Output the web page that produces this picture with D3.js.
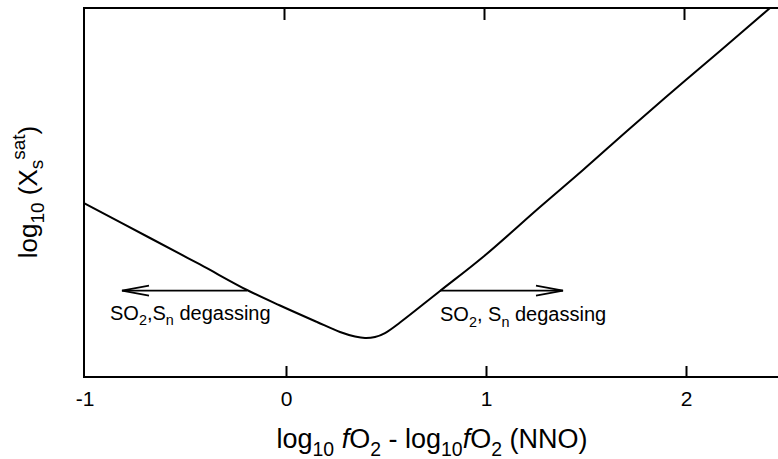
<!DOCTYPE html>
<html>
<head>
<meta charset="utf-8">
<script src="https://cdn.jsdelivr.net/npm/d3@7"></script>
<style>
  html, body { margin: 0; padding: 0; background: #fff; }
  svg { display: block; }
  text { font-family: "Liberation Sans", Arial, sans-serif; fill: #000; }
</style>
</head>
<body>
<svg id="chart" width="778" height="459"></svg>
<script>
// Sulfur saturation curve vs. oxygen fugacity relative to NNO buffer
const curveX = [-1.01, -0.68, -0.43, -0.195, -0.03, 0.155, 0.27, 0.345, 0.395, 0.445, 0.495, 0.57, 0.77, 0.985, 1.27, 1.485, 1.705, 1.935, 2.17, 2.42];
const curveY = [4.715, 3.767, 3.049, 2.358, 1.938, 1.491, 1.220, 1.098, 1.057, 1.084, 1.192, 1.477, 2.331, 3.252, 4.607, 5.610, 6.667, 7.751, 8.835, 10.0];

const xTicks = [-1, 0, 1, 2];
const xTickLabels = ["-1", "0", "1", "2"];

// degassing arrows: [start x, end x, y]
const arrowLeft = [-0.195, -0.82, 2.34];
const arrowRight = [0.77, 1.385, 2.34];
const labelLeftPos = [-0.88, 1.55];
const labelRightPos = [0.77, 1.52];

const svg = d3.select("#chart");
const plotL = 84, plotR = 778, plotT = 8, plotB = 377;

const x = d3.scaleLinear().domain([-1.01, 2.46]).range([plotL, plotR]);
const y = d3.scaleLinear().domain([0, 10]).range([plotB, plotT]);

// frame (left, top, bottom)
const frame = svg.append("g").attr("stroke", "#000").attr("stroke-width", 2).attr("fill", "none");
frame.append("path").attr("d", `M${plotR + 2},${plotT} H${plotL} V${plotB} H${plotR + 2}`);

// bottom axis: inward ticks
const xAxis = d3.axisBottom(x)
  .tickValues(xTicks.slice(1))
  .tickFormat((d) => xTickLabels[xTicks.indexOf(d)])
  .tickSizeInner(-11)
  .tickSizeOuter(0)
  .tickPadding(14);
const gx = svg.append("g").attr("transform", `translate(0,${plotB})`).call(xAxis);
gx.select(".domain").remove();
gx.selectAll(".tick line").attr("stroke", "#000").attr("stroke-width", 2);
gx.selectAll(".tick text").attr("font-size", 21).attr("font-family", "Liberation Sans, Arial, sans-serif");

// -1 label at the left edge
svg.append("text")
  .attr("x", x(-1) - 1).attr("y", 406)
  .attr("text-anchor", "middle").attr("font-size", 21)
  .text(xTickLabels[0]);

// top axis: inward ticks, no labels
const xTop = d3.axisTop(x).tickValues(xTicks.slice(1)).tickFormat("").tickSizeInner(-12).tickSizeOuter(0);
const gt = svg.append("g").attr("transform", `translate(-2,${plotT})`).call(xTop);
gt.select(".domain").remove();
gt.selectAll(".tick line").attr("stroke", "#000").attr("stroke-width", 2);

// saturation curve
const pts = curveX.map((d, i) => [d, curveY[i]]);
const line = d3.line().x((d) => x(d[0])).y((d) => y(d[1])).curve(d3.curveCatmullRom.alpha(0.5));
svg.append("path")
  .datum(pts)
  .attr("d", line)
  .attr("fill", "none")
  .attr("stroke", "#000")
  .attr("stroke-width", 2);

// open-headed arrows
function arrow(a) {
  const x0 = x(a[0]), x1 = x(a[1]), yy = y(a[2]);
  const dir = x1 > x0 ? 1 : -1;
  const headLen = 27, headW = 5;
  const g = svg.append("g").attr("stroke", "#000").attr("fill", "none").attr("stroke-width", 1.8);
  g.append("line").attr("x1", x0).attr("y1", yy).attr("x2", x1).attr("y2", yy);
  g.append("path")
    .attr("d", `M${x1 - dir * headLen},${yy - headW} L${x1},${yy} L${x1 - dir * headLen},${yy + headW}`);
}
arrow(arrowLeft);
arrow(arrowRight);

// text with subscripts / italics
function richText(t, parts, size) {
  parts.forEach((p) => {
    const ts = t.append("tspan").text(p.t);
    if (p.sub) ts.attr("font-size", size * 0.72).attr("dy", size * 0.28);
    if (p.back) ts.attr("dy", -size * 0.28);
    if (p.italic) ts.attr("font-style", "italic");
  });
  return t;
}

richText(svg.append("text").attr("x", x(labelLeftPos[0])).attr("y", y(labelLeftPos[1])).attr("font-size", 20), [
  { t: "SO" }, { t: "2", sub: true }, { t: ",S", back: true }, { t: "n", sub: true }, { t: " degassing", back: true }
], 20);
richText(svg.append("text").attr("x", x(labelRightPos[0])).attr("y", y(labelRightPos[1])).attr("font-size", 20), [
  { t: "SO" }, { t: "2", sub: true }, { t: ", S", back: true }, { t: "n", sub: true }, { t: " degassing", back: true }
], 20);

// x-axis title
richText(svg.append("text").attr("x", 432).attr("y", 448).attr("text-anchor", "middle").attr("font-size", 27), [
  { t: "log" }, { t: "10", sub: true }, { t: " ", back: true }, { t: "f", italic: true }, { t: "O" }, { t: "2", sub: true },
  { t: " - log", back: true }, { t: "10", sub: true }, { t: "f", italic: true, back: true }, { t: "O" }, { t: "2", sub: true },
  { t: " (NNO)", back: true }
], 27);

// y-axis title
const yt = svg.append("text")
  .attr("transform", `translate(37,192) rotate(-90)`)
  .attr("text-anchor", "middle")
  .attr("font-size", 26);
yt.append("tspan").text("log");
yt.append("tspan").text("10").attr("font-size", 19).attr("dy", 7);
yt.append("tspan").text(" (X").attr("dy", -7);
yt.append("tspan").text("s").attr("font-size", 19).attr("dy", 6);
yt.append("tspan").text("sat").attr("font-size", 19).attr("dy", -18);
yt.append("tspan").text(")").attr("dy", 12);
</script>
</body>
</html>
